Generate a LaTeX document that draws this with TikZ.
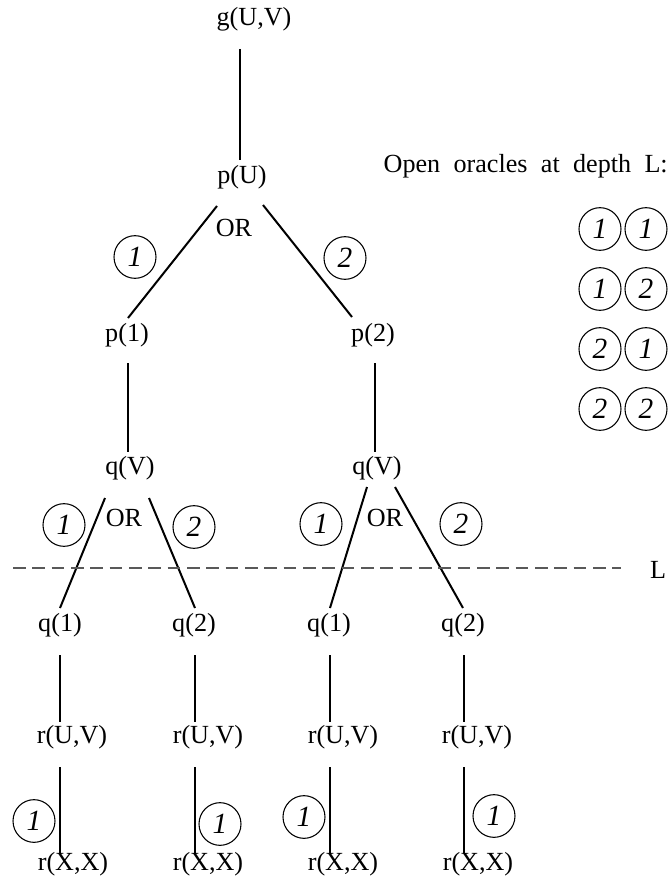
\documentclass[tikz,border=0pt]{standalone}
\usepackage{fontspec}
\setmainfont{Liberation Serif}
\usetikzlibrary{shapes.geometric}
\tikzset{
  lbl/.style={inner sep=0pt, font=\fontsize{19.6}{23}\selectfont},
  orc/.style={draw, ellipse, line width=0.8pt, minimum width=31.5pt, minimum height=32pt, inner sep=0pt, font=\fontsize{22}{24}\selectfont\itshape},
  edge/.style={line width=1.5pt},
  level/.style={line width=1.3pt, draw=black!65, dash pattern=on 9.5pt off 5pt}
}
\begin{document}
\begin{tikzpicture}[x=0.75pt,y=-0.75pt]
\useasboundingbox (0,0) rectangle (669,888);
% tree nodes
\node[lbl] (gUV) at (254,19) {g(U,V)};
\node[lbl] (pU) at (242,177) {p(U)};
\node[lbl] (or1) at (234,228) {OR};
\node[lbl] (p1) at (127,335) {p(1)};
\node[lbl] (p2) at (373,335) {p(2)};
\node[lbl] (qV1) at (130,468) {q(V)};
\node[lbl] (qV2) at (377,468) {q(V)};
\node[lbl] (or2) at (124,518) {OR};
\node[lbl] (or3) at (385,518) {OR};
\node[lbl] (q11) at (60,625) {q(1)};
\node[lbl] (q12) at (194,625) {q(2)};
\node[lbl] (q21) at (329,625) {q(1)};
\node[lbl] (q22) at (463,625) {q(2)};
\node[lbl] (r1) at (72,737) {r(U,V)};
\node[lbl] (r2) at (208,737) {r(U,V)};
\node[lbl] (r3) at (343,737) {r(U,V)};
\node[lbl] (r4) at (477,737) {r(U,V)};
\node[lbl] (x1) at (73,864) {r(X,X)};
\node[lbl] (x2) at (208,864) {r(X,X)};
\node[lbl] (x3) at (343,864) {r(X,X)};
\node[lbl] (x4) at (478,864) {r(X,X)};
% oracle circles on edges
\node[orc] (c1) at (135,257) {1};
\node[orc] (c2) at (345,258) {2};
\node[orc] (c3) at (64,525) {1};
\node[orc] (c4) at (194,527) {2};
\node[orc] (c5) at (321,524) {1};
\node[orc] (c6) at (461,524) {2};
\node[orc] (c7) at (34,821) {1};
\node[orc] (c8) at (220,824) {1};
\node[orc] (c9) at (304,817) {1};
\node[orc] (c10) at (494,816) {1};
% edges
\draw[edge] ([shift={(-14,30)}]gUV.center) -- ([shift={(-2,-17)}]pU.center);
\draw[edge] ([shift={(-25,29)}]pU.center) -- ([shift={(1,-17)}]p1.center);
\draw[edge] ([shift={(21,28)}]pU.center) -- ([shift={(-21,-18)}]p2.center);
\draw[edge] ([shift={(1,28)}]p1.center) -- ([shift={(-2,-16)}]qV1.center);
\draw[edge] ([shift={(2,28)}]p2.center) -- ([shift={(-2,-16)}]qV2.center);
\draw[edge] ([shift={(-25,30)}]qV1.center) -- ([shift={(0,-17)}]q11.center);
\draw[edge] ([shift={(19,30)}]qV1.center) -- ([shift={(1,-17)}]q12.center);
\draw[edge] ([shift={(-10,19)}]qV2.center) -- ([shift={(1,-17)}]q21.center);
\draw[edge] ([shift={(18,19)}]qV2.center) -- ([shift={(0,-17)}]q22.center);
\draw[edge] ([shift={(0,30)}]q11.center) -- ([shift={(-12,-15)}]r1.center);
\draw[edge] ([shift={(1,30)}]q12.center) -- ([shift={(-13,-15)}]r2.center);
\draw[edge] ([shift={(1,30)}]q21.center) -- ([shift={(-13,-15)}]r3.center);
\draw[edge] ([shift={(1,30)}]q22.center) -- ([shift={(-13,-15)}]r4.center);
\draw[edge] ([shift={(-12,30)}]r1.center) -- ([shift={(-13,-11)}]x1.center);
\draw[edge] ([shift={(-13,30)}]r2.center) -- ([shift={(-13,-11)}]x2.center);
\draw[edge] ([shift={(-13,30)}]r3.center) -- ([shift={(-13,-11)}]x3.center);
\draw[edge] ([shift={(-13,30)}]r4.center) -- ([shift={(-14,-11)}]x4.center);
% depth level
\coordinate (dl) at (13,568);
\coordinate (dr) at (621,568);
\draw[level] (dl) -- (dr);
\node[lbl] (L) at (658,570) {L};
% open oracles list
\node[lbl, anchor=east] (title) at (668,166) {Open\hspace{10pt}oracles\hspace{10pt}at\hspace{10pt}depth\hspace{10pt}L:};
\node[orc] (a1) at (600,229) {1};
\node[orc] (b1) at (646,229) {1};
\node[orc] (a2) at (600,289) {1};
\node[orc] (b2) at (646,289) {2};
\node[orc] (a3) at (600,349) {2};
\node[orc] (b3) at (646,349) {1};
\node[orc] (a4) at (600,409) {2};
\node[orc] (b4) at (646,409) {2};
\end{tikzpicture}
\end{document}
